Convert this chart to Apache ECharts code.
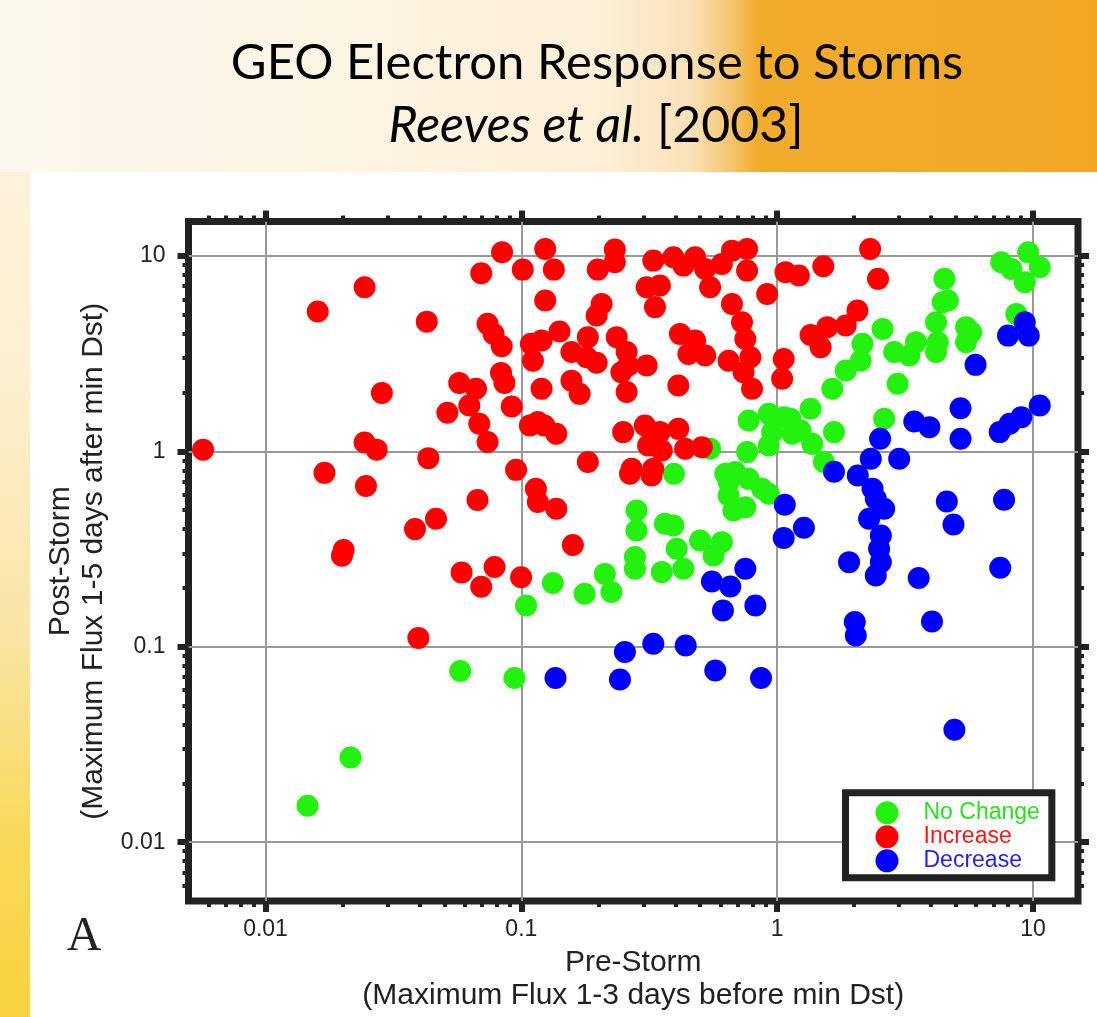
<!DOCTYPE html>
<html>
<head>
<meta charset="utf-8">
<script src="https://cdn.jsdelivr.net/npm/echarts@6/dist/echarts.min.js"></script>
<style>
  html, body { margin: 0; padding: 0; }
  #page { position: relative; width: 1097px; height: 1017px; overflow: hidden;
    background: linear-gradient(180deg, #fdf5e2 0%, #fcf0d2 35%, #fae5a6 62%, #f9d95a 82%, #f8d23e 100%); }
  #band { position: absolute; left: 0; top: 0; width: 1097px; height: 172px;
    background: linear-gradient(90deg, #fdf8ee 0%, #fdf5e4 30%, #fcefd6 55%, #f9e2b8 63%, #f5c672 66.5%, #f2ac2c 69%, #f1a724 100%); }
  #panel { position: absolute; left: 30px; top: 172px; right: 0; bottom: 0; background: #ffffff; }
  #chart { position: absolute; left: 0; top: 0; width: 1097px; height: 1017px; }
</style>
</head>
<body>
<div id="page"><div id="band"></div><div id="panel"></div><div id="chart"></div></div>
<script>
// Tick positions on the log axes
const majorTicks = [0.01, 0.1, 1, 10];
const minorTicks = [0.006, 0.007, 0.008, 0.009,
  0.02, 0.03, 0.04, 0.05, 0.06, 0.07, 0.08, 0.09,
  0.2, 0.3, 0.4, 0.5, 0.6, 0.7, 0.8, 0.9,
  2, 3, 4, 5, 6, 7, 8, 9];

const seriesNames = ['No Change', 'Increase', 'Decrease'];

// No Change storms: pre-storm and post-storm maximum flux
const noChangePre = [0.0577, 0.094, 0.0146, 0.0215, 0.1044, 0.1328, 0.1768, 0.212, 0.225, 0.282,
  0.282, 0.278, 0.278, 0.354, 0.364, 0.393, 0.405, 0.430, 0.500, 0.608,
  0.564, 0.646, 0.774, 0.873, 0.927, 0.646, 0.751, 0.675, 0.395, 0.547,
  0.686, 0.627, 0.774, 0.927, 1.061, 0.956, 1.145, 0.927, 0.763, 1.234,
  1.372, 1.524, 1.351, 1.668, 1.644, 1.854, 2.12, 2.156, 2.583, 2.868,
  3.285, 3.49, 4.18, 4.245, 4.18, 4.44, 4.65, 4.51, 5.48, 5.48,
  5.74, 2.958, 2.62, 7.52, 9.58, 10.63, 9.29, 8.235, 8.61, 1.128];
const noChangePost = [0.0751, 0.0692, 0.01537, 0.0271, 0.1627, 0.2118, 0.1866, 0.236, 0.1905, 0.498,
  0.3935, 0.2876, 0.2506, 0.241, 0.4257, 0.4173, 0.317, 0.2506, 0.35, 0.343,
  0.293, 0.696, 0.723, 0.643, 0.606, 0.594, 0.518, 0.498, 0.767, 1.03,
  0.783, 0.767, 1.437, 1.555, 1.496, 1.254, 1.229, 1.071, 0.991, 1.277,
  1.092, 0.881, 1.650, 1.254, 2.09, 2.59, 2.91, 3.55, 4.23, 3.22,
  3.09, 3.62, 3.22, 3.62, 4.58, 5.80, 5.91, 7.63, 4.32, 3.62,
  4.07, 2.215, 1.467, 9.29, 10.44, 8.75, 7.34, 8.58, 5.05, 1.467];

// Increase storms
const increasePre = [0.0057, 0.0244, 0.0160, 0.0285, 0.0244, 0.0272, 0.0170, 0.0247, 0.0433, 0.0674,
  0.0464, 0.0384, 0.0202, 0.0199, 0.0584, 0.0786, 0.0697, 0.0396, 0.0841, 0.124,
  0.0697, 0.1013, 0.134, 0.199, 0.124, 0.206, 0.0427, 0.0738, 0.0779, 0.0838,
  0.109, 0.120, 0.141, 0.111, 0.182, 0.157, 0.180, 0.197, 0.0833, 0.0859,
  0.0572, 0.0665, 0.0626, 0.0514, 0.0685, 0.0738, 0.0917, 0.120, 0.157, 0.169,
  0.108, 0.116, 0.123, 0.137, 0.0954, 0.182, 0.232, 0.232, 0.328, 0.393,
  0.430, 0.478, 0.523, 0.608, 0.666, 0.763, 0.763, 0.547, 0.309, 0.348,
  0.333, 0.666, 0.914, 1.078, 0.729, 0.751, 0.786, 0.739, 0.798, 0.236,
  0.258, 0.262, 0.309, 0.246, 0.258, 0.411, 0.417, 0.478, 0.450, 0.523,
  0.646, 1.061, 1.046, 0.250, 0.304, 0.348, 0.411, 0.313, 0.354, 0.437,
  0.508, 0.270, 0.328, 0.114, 0.116, 0.137, 0.159, 0.0998, 0.266, 0.323,
  2.31, 2.48, 1.515, 1.216, 2.06, 1.854, 1.571, 1.351, 1.479, 0.197];
const increasePost = [1.02, 6.92, 5.19, 1.99, 1.11, 1.02, 0.776, 0.664, 0.923, 0.563,
  0.452, 0.400, 0.313, 0.292, 0.240, 0.256, 0.203, 0.111, 10.44, 10.86,
  8.16, 8.51, 8.51, 8.51, 5.91, 5.68, 4.61, 4.49, 3.99, 3.45,
  3.55, 3.69, 4.10, 2.91, 3.84, 3.22, 3.03, 2.84, 2.52, 2.24,
  2.24, 2.09, 1.715, 1.574, 1.383, 1.115, 1.695, 2.09, 2.30, 1.968,
  1.355, 1.411, 1.355, 1.229, 0.804, 0.881, 10.77, 9.29, 9.46, 9.85,
  8.92, 9.85, 8.58, 9.10, 10.64, 10.86, 8.41, 6.92, 6.92, 7.05,
  5.47, 5.68, 6.39, 8.25, 4.58, 3.76, 3.03, 2.54, 2.09, 3.84,
  3.22, 2.75, 2.75, 2.54, 2.01, 2.17, 3.99, 3.69, 3.15, 3.09,
  2.91, 2.97, 2.35, 1.254, 1.355, 1.254, 1.303, 1.071, 1.01, 1.03,
  1.05, 0.814, 0.814, 0.643, 0.550, 0.508, 0.332, 0.227, 0.767, 0.752,
  10.86, 7.63, 8.86, 7.93, 5.25, 4.40, 4.32, 3.94, 3.41, 4.95];

// Decrease storms
const decreasePre = [4.93, 0.136, 0.243, 0.254, 0.328, 0.439, 0.573, 0.865, 0.556, 0.656,
  0.751, 0.614, 0.822, 1.071, 1.061, 1.272, 1.668, 2.066, 2.36, 2.43,
  2.62, 2.288, 2.543, 2.504, 2.543, 2.43, 1.91, 3.576, 4.606, 4.89,
  7.71, 7.45, 2.011, 2.03, 4.03, 3.00, 2.323, 2.527, 3.436, 3.936,
  5.21, 5.21, 5.965, 7.41, 8.11, 9.01, 10.63, 9.29, 7.99, 9.63];
const decreasePost = [0.0376, 0.0692, 0.068, 0.094, 0.1036, 0.1015, 0.0756, 0.0692, 0.2158, 0.2034,
  0.2506, 0.1534, 0.1627, 0.5325, 0.360, 0.406, 0.786, 0.752, 0.643, 0.5715,
  0.508, 0.4516, 0.371, 0.317, 0.271, 0.2316, 0.271, 0.2246, 0.5535, 0.422,
  0.565, 0.2536, 0.1338, 0.1142, 0.1347, 0.916, 0.916, 1.159, 1.420, 1.330,
  1.663, 1.159, 2.77, 1.254, 1.383, 1.496, 1.715, 4.58, 3.91, 3.91];

const markerColors = ['#22f20e', '#fe0000', '#0000fe'];
const legendTextColors = ['#25e21c', '#ff1414', '#1f1fff'];
const frameColor = '#222222';
const labelFont = 'Liberation Sans';

function zip(xs, ys) { return xs.map((x, i) => [x, ys[i]]); }
function tickText(v) { return v >= 1 ? String(Math.round(v)) : String(Number(v.toPrecision(1))); }

// One log axis per frame side carries the decade ticks, a second one the 2..9 minor ticks
function logAxis(position, ticks, major, extra) {
  return Object.assign({
    type: 'log', logBase: 10, min: 0.005, max: 15, position: position,
    axisLine: { show: false },
    axisTick: { show: true, inside: false, customValues: ticks, length: major ? 11 : 6,
      lineStyle: { color: frameColor, width: major ? 6 : 4 } },
    axisLabel: { show: false },
    splitLine: { show: false },
    minorTick: { show: false },
    minorSplitLine: { show: false }
  }, extra || {});
}

const axisNameStyle = { fontFamily: labelFont, fontSize: 30, lineHeight: 33, color: '#222' };
const gridLines = { show: true, lineStyle: { color: '#97999d', width: 2 } };

const chart = echarts.init(document.getElementById('chart'), null, { renderer: 'canvas' });
chart.setOption({
  animation: false,
  title: [
    { text: 'GEO Electron Response to Storms', left: 597, top: 39, textAlign: 'center', padding: 0,
      textStyle: { fontFamily: 'Lato', fontSize: 49, lineHeight: 49, fontWeight: 'normal', color: '#000' } },
    { text: '{it|Reeves et al.} [2003]', left: 596, top: 101, textAlign: 'center', padding: 0,
      textStyle: { fontFamily: 'Lato', fontSize: 50, lineHeight: 50, fontWeight: 'normal', color: '#000',
        rich: { it: { fontFamily: 'Lato', fontStyle: 'italic', fontSize: 50, lineHeight: 50, color: '#000' } } } }
  ],
  grid: { left: 188.5, top: 221.5, right: 19, bottom: 116, show: true,
    borderColor: frameColor, borderWidth: 7, backgroundColor: 'transparent' },
  xAxis: [
    logAxis('bottom', majorTicks, true, {
      axisLabel: { show: true, customValues: majorTicks, formatter: tickText, margin: 17,
        fontFamily: labelFont, fontSize: 23, color: '#222' },
      splitLine: gridLines,
      name: 'Pre-Storm\n(Maximum Flux 1-3 days before min Dst)',
      nameLocation: 'middle', nameGap: 43, nameTextStyle: axisNameStyle
    }),
    logAxis('bottom', minorTicks, false),
    logAxis('top', majorTicks, true),
    logAxis('top', minorTicks, false)
  ],
  yAxis: [
    logAxis('left', majorTicks, true, {
      axisLabel: { show: true, customValues: majorTicks, formatter: tickText, margin: 23,
        fontFamily: labelFont, fontSize: 23, color: '#222' },
      splitLine: gridLines,
      name: 'Post-Storm\n(Maximum Flux 1-5 days after min Dst)',
      nameLocation: 'middle', nameGap: 72, nameTextStyle: axisNameStyle
    }),
    logAxis('left', minorTicks, false),
    logAxis('right', majorTicks, true),
    logAxis('right', minorTicks, false)
  ],
  legend: {
    orient: 'vertical', left: 845.5, top: 792.8, padding: [8, 12, 5, 30],
    itemWidth: 63, itemHeight: 23, itemGap: 0, icon: 'circle',
    backgroundColor: '#ffffff', borderColor: frameColor, borderWidth: 7, borderRadius: 0,
    textStyle: { fontFamily: labelFont, fontSize: 23, lineHeight: 24 },
    data: seriesNames.map((n, i) => ({ name: n, textStyle: { color: legendTextColors[i] } }))
  },
  graphic: [
    { type: 'text', x: 84, y: 937, silent: true,
      style: { text: 'A', font: '48px "Liberation Serif"', fill: '#222', align: 'center', verticalAlign: 'middle' } }
  ],
  series: [
    { name: seriesNames[0], type: 'scatter', symbol: 'circle', symbolSize: 22,
      itemStyle: { color: markerColors[0], opacity: 1 }, data: zip(noChangePre, noChangePost) },
    { name: seriesNames[1], type: 'scatter', symbol: 'circle', symbolSize: 22,
      itemStyle: { color: markerColors[1], opacity: 1 }, data: zip(increasePre, increasePost) },
    { name: seriesNames[2], type: 'scatter', symbol: 'circle', symbolSize: 22,
      itemStyle: { color: markerColors[2], opacity: 1 }, data: zip(decreasePre, decreasePost) }
  ]
});
</script>
</body>
</html>
